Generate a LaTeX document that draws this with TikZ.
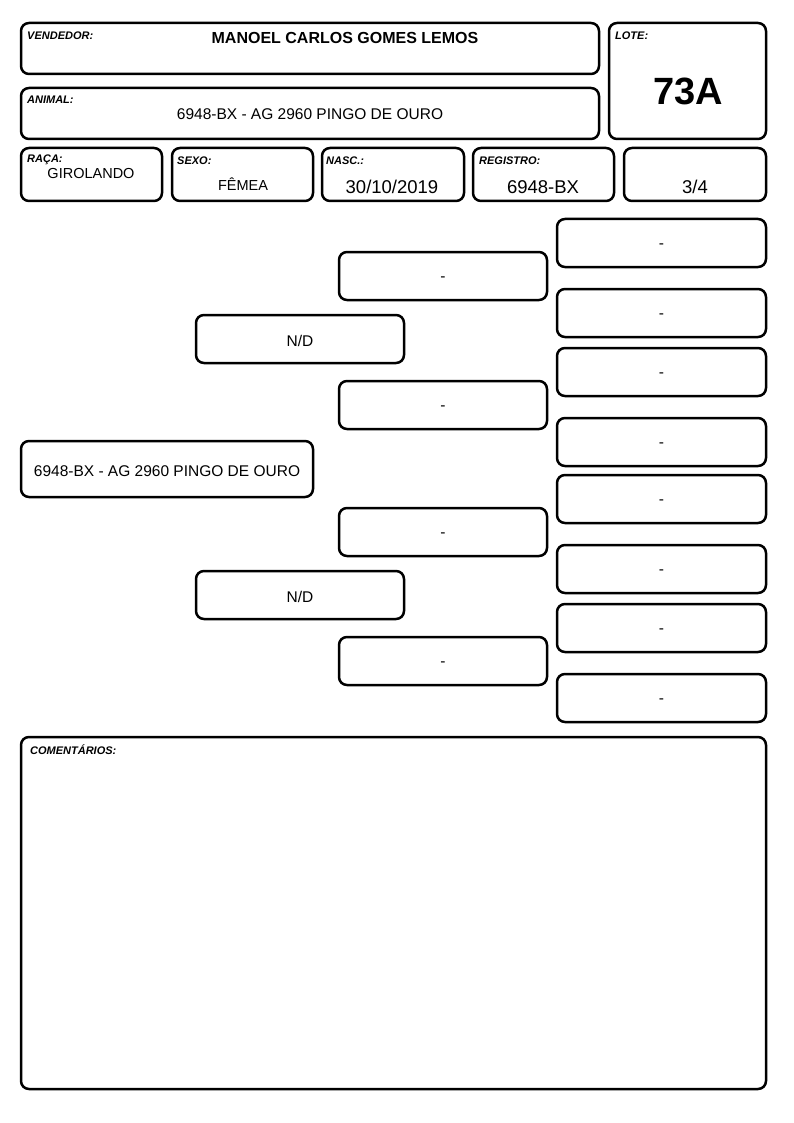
\documentclass[tikz,border=0pt]{standalone}
\usepackage{fontspec}
\setmainfont{Liberation Sans}
\usetikzlibrary{fit}
\tikzset{
  box/.style={draw, line width=2.5pt, rounded corners=8pt, inner sep=0pt},
  lab/.style={font=\bfseries\itshape\fontsize{11}{11}\selectfont, anchor=west, inner sep=0pt},
  val/.style={font=\fontsize{15.5}{16}\selectfont, inner sep=0pt},
  pedtext/.style={val, yshift=-2pt},
  dashtext/.style={val, yshift=-3.5pt},
  big/.style={font=\fontsize{18.5}{19}\selectfont, inner sep=0pt},
  sml/.style={font=\fontsize{14.5}{15}\selectfont, inner sep=0pt}
}
\begin{document}
\begin{tikzpicture}[x=1pt,y=-1pt]
\useasboundingbox (0,0) rectangle (794,1123);
% header
\node[box, fit={(21,23) (599,74)}] (vend) {};
\node[box, fit={(609,23) (766,139)}] (lote) {};
\node[box, fit={(21,88) (599,139)}] (anim) {};
\node[box, fit={(21,148) (162,201)}] (raca) {};
\node[box, fit={(172,148) (313,201)}] (sexo) {};
\node[box, fit={(322,148) (464,201)}] (nasc) {};
\node[box, fit={(473,148) (614,201)}] (reg) {};
\node[box, fit={(624,148) (766,201)}] (frac) {};
\node[lab] (lvend) at (27,35.5) {VENDEDOR:};
\node[lab] (llote) at (615,35.5) {LOTE:};
\node[lab] (lanim) at (27,100) {ANIMAL:};
\node[lab] (lraca) at (27,159.5) {RAÇA:};
\node[lab] (lsexo) at (177,160.5) {SEXO:};
\node[lab] (lnasc) at (326,160.5) {NASC.:};
\node[lab] (lreg) at (479,160.5) {REGISTRO:};
\node[font=\bfseries\fontsize{16}{16}\selectfont, inner sep=0pt] (tvend) at (345,37.5) {MANOEL CARLOS GOMES LEMOS};
\node[font=\bfseries\fontsize{38}{38}\selectfont, inner sep=0pt] (tlote) at (688,91.5) {73A};
\node[val] (tanim) at (310,114) {6948-BX - AG 2960 PINGO DE OURO};
\node[sml] (traca) at (91,173.5) {GIROLANDO};
\node[sml] (tsexo) at (243,184.5) {FÊMEA};
\node[big] (tnasc) at (392,187) {30/10/2019};
\node[big] (treg) at (543,187) {6948-BX};
\node[big] (tfrac) at (695,187) {3/4};
% pedigree
\node[box, fit={(21,441) (313,497)}] (p0) {};
\node[pedtext] at (p0.center) {6948-BX - AG 2960 PINGO DE OURO};
\node[box, fit={(196,315) (404,363)}] (p1) {};
\node[pedtext] at (p1.center) {N/D};
\node[box, fit={(196,571) (404,619)}] (p2) {};
\node[pedtext] at (p2.center) {N/D};
\node[box, fit={(339,252) (547,300)}] (p11) {};
\node[dashtext] at (p11.center) {-};
\node[box, fit={(339,381) (547,429)}] (p12) {};
\node[dashtext] at (p12.center) {-};
\node[box, fit={(339,508) (547,556)}] (p21) {};
\node[dashtext] at (p21.center) {-};
\node[box, fit={(339,637) (547,685)}] (p22) {};
\node[dashtext] at (p22.center) {-};
\node[box, fit={(557,219) (766,267)}] (q1) {};
\node[dashtext] at (q1.center) {-};
\node[box, fit={(557,289) (766,337)}] (q2) {};
\node[dashtext] at (q2.center) {-};
\node[box, fit={(557,348) (766,396)}] (q3) {};
\node[dashtext] at (q3.center) {-};
\node[box, fit={(557,418) (766,466)}] (q4) {};
\node[dashtext] at (q4.center) {-};
\node[box, fit={(557,475) (766,523)}] (q5) {};
\node[dashtext] at (q5.center) {-};
\node[box, fit={(557,545) (766,593)}] (q6) {};
\node[dashtext] at (q6.center) {-};
\node[box, fit={(557,604) (766,652)}] (q7) {};
\node[dashtext] at (q7.center) {-};
\node[box, fit={(557,674) (766,722)}] (q8) {};
\node[dashtext] at (q8.center) {-};
% comments
\node[box, fit={(21,737) (766,1089)}] (com) {};
\node[lab] (lcom) at (30,749.5) {COMENTÁRIOS:};
\end{tikzpicture}
\end{document}
